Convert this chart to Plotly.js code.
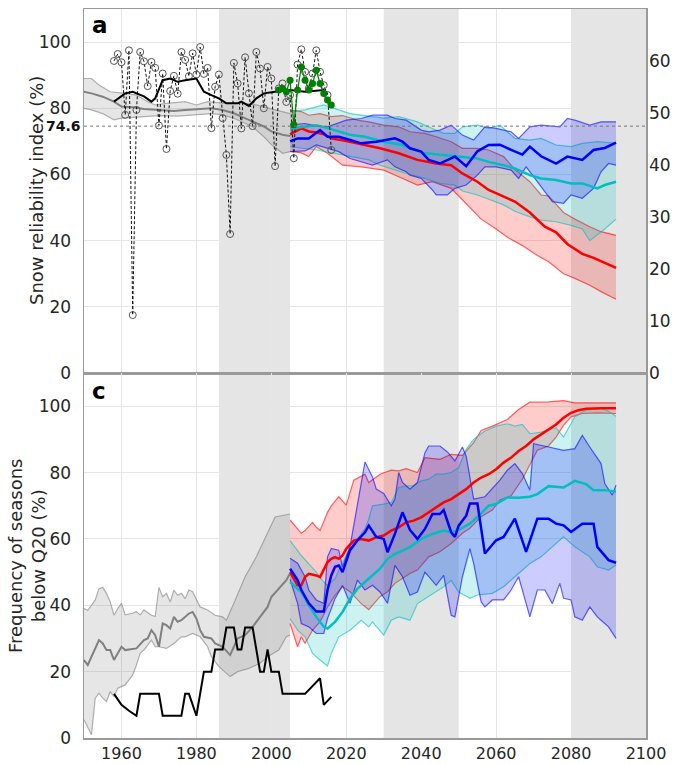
<!DOCTYPE html>
<html><head><meta charset="utf-8">
<script src="https://cdn.plot.ly/plotly-3.0.1.min.js"></script>
<style>html,body{margin:0;padding:0;background:#fff}#chart{width:673px;height:764px}</style>
</head><body><div id="chart"></div>
<script>
// ---------- Panel a : snow reliability index (%) ----------
const aGreyUpYears = [1950,1952,1954,1957,1961,1964,1967,1969,1972,1977,1980,1983,1988,1993,1996,1999,2001,2005];
const aGreyUpVals  = [89,89,87,85,84.5,84,82,81,81.5,82,81,82,81.5,81.5,81,80,79.5,78.4];
const aGreyMedYears = [1950,1952,1955,1958,1960,1963,1966,1970,1974,1977,1980,1984,1987,1990,1992,1995,1998,2000,2003,2005];
const aGreyMedVals  = [85,84.5,83.5,82,80.5,80.3,79.8,79.5,79.2,79.5,79.8,80,79.5,78.5,77.5,76,74.5,73,72,71.6];
const aGreyLoYears = [1950,1952,1955,1958,1960,1963,1966,1970,1975,1980,1984,1987,1990,1992,1995,1998,2000,2003,2005];
const aGreyLoVals  = [80,79.5,78.4,76.5,77,77.3,77.5,77.8,77.6,78,78.4,78,77,76,74.4,71.4,69,66.4,66.9];

const aObsYears = [1958,1959,1960,1961,1962,1963,1964,1965,1966,1967,1968,1969,1970,1971,1972,1973,1974,1975,1976,1977,1978,1979,1980,1981,1982,1983,1984,1985,1986,1987,1988,1989,1990,1991,1992,1993,1994,1995,1996,1997,1998,1999,2000,2001,2002,2003,2004,2005,2006,2007,2008,2009,2010,2011,2012,2013,2014,2015,2016];
const aObsVals  = [94.3,96.4,93.9,78,97.5,17.5,79.5,97,94.2,86.7,94,92.2,74.8,90.5,67.7,85.2,89.8,84.4,97,94.6,89.7,96.6,90.2,98.5,90.4,92.2,74,86.5,90.2,77,65.9,42,93.7,87.5,73.9,95.4,84.5,74.6,97,92,80,92.5,89,62.5,86,87.5,81.9,84,64.9,93.2,97.8,91,86,90.5,97.5,91,87,84,67.4];

const aMeanYears = [1958,1961,1963,1966,1968,1969,1971,1973,1975,1977,1980,1982,1984,1986,1988,1991,1992,1994,1996,1998,2001,2005,2009,2014,2015];
const aMeanVals  = [82,84.5,85,83.6,82,83,88.5,89,88,88.5,89,85,84,83,81.5,81.5,82,80.7,83,84.5,85,85.5,85,85.5,84.3];

const aGreenYears = [2002,2003,2004,2005,2006,2007,2008,2009,2010,2011,2012,2013,2014,2015,2016];
const aGreenVals  = [85.5,86,85,88.5,75,85.5,92.5,88.5,85.5,87.5,91.5,87.5,84.5,82.5,81];

const aRedMedYears = [2005,2008,2010,2012,2014,2016,2020,2025,2029,2034,2039,2044,2048,2051,2055,2058,2062,2065,2069,2071,2073,2076,2079,2083,2086,2089,2092];
const aRedMedVals  = [72.1,73.9,73,72.7,72.1,70.9,70.1,68.9,67.9,66.4,64.4,63.3,62.8,60.3,57.8,55.3,53.3,51.8,48.5,46.5,44.2,42.5,39,36,34.8,33.3,31.8];
const aRedUpYears = [2005,2008,2010,2013,2016,2019,2023,2026,2030,2034,2037,2041,2044,2048,2051,2055,2058,2062,2065,2069,2072,2074,2078,2081,2085,2088,2092];
const aRedUpVals  = [79.5,79,77.9,78.4,77.5,77.8,76.4,75.9,74.9,74.4,72.9,72.4,71.4,69.9,67.9,67.9,67.4,65.4,61.5,57.8,53.8,53.5,48.5,46.5,44.2,42.7,41.6];
const aRedLoYears = [2005,2008,2010,2012,2015,2019,2024,2030,2034,2039,2043,2048,2050,2053,2056,2060,2063,2067,2071,2074,2078,2081,2085,2088,2092];
const aRedLoVals  = [67,66.5,65.4,68.4,66.4,62.8,62.3,61.3,59.3,56.8,57.8,55.8,53.5,50,46.5,43.5,41,38.5,35.5,33.6,30,28.6,26.5,24.6,22.3];

const aCyanMedYears = [2005,2009,2012,2015,2018,2021,2025,2030,2035,2038,2041,2045,2049,2052,2055,2058,2062,2065,2069,2072,2076,2080,2083,2087,2089,2092];
const aCyanMedVals  = [73.9,74.5,74.9,74,72.9,72,71.4,69.9,68.9,67.5,66.4,65.9,65.4,65,64.8,63.8,62.8,61.8,59.8,58.8,58.3,57.3,57.3,55.8,56.8,57.8];
const aCyanUpYears = [2005,2009,2014,2018,2021,2027,2030,2034,2039,2043,2046,2049,2051,2055,2058,2061,2065,2069,2072,2076,2080,2083,2087,2092];
const aCyanUpVals  = [79,79.5,81,79.5,78.4,77.5,77,77.5,75.9,73.9,72.4,72.4,74.4,74.9,73.9,74.9,70.9,70.4,70.9,68.9,68.4,69.4,69.9,69.4];
const aCyanLoYears = [2005,2012,2019,2026,2029,2033,2036,2041,2045,2049,2051,2055,2058,2062,2065,2069,2072,2076,2080,2083,2085,2089,2092];
const aCyanLoVals  = [68.4,67.4,65.9,64.4,62.8,61.3,60.3,58.8,57.3,56.8,55,53.8,52.6,50.8,48.9,47.2,46.2,45.7,44.6,43.5,40,43.5,46.5];

const aBlueMedYears = [2005,2007,2010,2013,2015,2018,2021,2024,2028,2033,2035,2037,2040,2042,2045,2049,2052,2055,2058,2061,2064,2067,2069,2072,2076,2079,2083,2086,2089,2092];
const aBlueMedVals  = [70,70.9,70.9,73.4,71.4,71.4,70.4,69.4,69.9,70.9,69.9,67.9,66.9,64.4,63.3,65.4,62.5,67,68.9,69,67.4,66,68.4,65.5,63.3,65.4,64.4,67.4,68,69.6];
const aBlueUpYears = [2005,2009,2012,2015,2020,2024,2027,2031,2033,2036,2040,2042,2045,2048,2051,2054,2057,2060,2064,2066,2069,2072,2077,2079,2081,2085,2088,2092];
const aBlueUpVals  = [75,75.4,74.7,74.4,76.4,76.9,77.9,77.9,76.9,76.4,73.4,72.9,73.4,74.9,71.9,70.4,74.4,73.9,72.9,70.9,74.4,74.9,74.4,76.9,76.4,74.9,75.9,75.9];
const aBlueLoYears = [2005,2009,2012,2018,2021,2024,2027,2031,2033,2036,2037,2040,2043,2044,2047,2049,2052,2055,2057,2060,2064,2066,2068,2071,2073,2075,2078,2080,2083,2086,2088,2090,2092];
const aBlueLoVals  = [66.9,67.1,68.9,66.9,64.8,63.8,62.8,64.4,62.3,60.8,59.8,58.8,55.3,53.8,53.8,55.8,56.8,59.8,62.3,62.3,61.3,58.8,62.3,57.8,54.8,51.8,51.3,53.8,52.8,55.8,60.8,63.3,62.8];

// ---------- Panel c : frequency of seasons below Q20 (%) ----------
const cGreyUpYears = [1950,1951,1953,1954,1955,1956,1957,1958,1959,1960,1961,1963,1964,1965,1966,1968,1969,1970,1971,1972,1973,1974,1975,1976,1977,1978,1979,1980,1981,1983,1985,1987,1988,1990,1993,1996,1999,2001,2005];
const cGreyUpVals  = [39,38.5,41.6,45,45.4,43.6,41,37,39,40.6,37.1,37.6,38.1,37.1,38.6,37,36.6,45.4,42.6,43.6,41,44.6,43,43.6,42,44.6,44.1,41.6,39.5,38.6,37,36.5,35.5,40.6,48.6,54.6,61.6,66.6,67.5];
const cGreyMedYears = [1950,1951,1954,1955,1956,1957,1958,1960,1961,1964,1966,1967,1968,1969,1970,1971,1972,1973,1974,1975,1976,1978,1979,1980,1981,1982,1984,1985,1987,1989,1990,1991,1993,1995,1997,1999,2000,2002,2004,2005];
const cGreyMedVals  = [23.5,22,29.5,28.5,26.5,26.5,23.5,27.5,26.5,27,29.5,30,32.5,31,27.5,34.5,34,33,36.5,35,35.5,37.5,38,36,32.5,30.5,30,28.5,27.5,25,27.5,30,31,33.5,36.5,39.5,42.5,45,47.6,49.6];
const cGreyLoYears = [1950,1952,1953,1954,1955,1956,1957,1958,1959,1960,1961,1962,1963,1964,1965,1966,1967,1968,1969,1970,1972,1974,1976,1977,1979,1981,1983,1984,1986,1988,1989,1991,1994,1997,1999,2002,2004,2005];
const cGreyLoVals  = [5.5,1,12,13.5,12,11,14,12.5,15,15.5,16,17.5,19,22,25.5,26.5,28,29.5,27.5,27.5,27,28.5,30.5,30.5,31.5,30.5,27.5,24.5,21.5,19.5,18.5,20,21,22.5,24.5,26.5,30.5,31];

const cBlackYears = [1958,1960,1962,1964,1965,1970,1971,1976,1977,1978,1980,1982,1984,1985,1987,1988,1990,1991,1992,1993,1995,1997,1998,1999,2000,2002,2003,2009,2013,2014,2016];
const cBlackVals  = [13.3,10,8.2,6.7,13.3,13.3,6.7,6.7,13.3,13.3,6.7,20,20,26.7,26.7,33.3,33.3,26.7,26.7,33.3,33.3,20,20,26.7,20,20,13.3,13.3,18,10,12.4];

const cRedMedYears = [2005,2007,2008,2009,2010,2012,2013,2014,2015,2016,2017,2018,2019,2020,2022,2024,2026,2028,2030,2032,2034,2036,2038,2040,2042,2044,2046,2048,2050,2052,2054,2056,2058,2060,2062,2064,2066,2068,2070,2072,2074,2076,2078,2080,2082,2084,2088,2092];
const cRedMedVals  = [50,46,46,48.5,49.5,49,48.5,51,53,54,54.5,54,55,57,59.5,60,59.5,60.5,61,62.5,63.5,65,65.5,66.5,68,69.5,71,72,73.5,75,77,78.5,79.5,81,83,84.5,86.5,88,90,91.5,93,94.5,96.5,98,98.8,99.2,99.4,99.4];
const cRedUpYears = [2005,2008,2009,2011,2012,2013,2015,2016,2018,2020,2022,2025,2026,2029,2032,2034,2036,2039,2041,2045,2048,2051,2054,2056,2059,2063,2066,2069,2074,2078,2081,2092];
const cRedUpVals  = [65.7,61.7,62.5,65,63.5,62.5,68,70,72.7,70.2,77.7,79.5,77,79.5,80.7,80.5,81.2,80,84.5,84,85.5,85.2,89,92.7,94,96,99,101.2,101.3,101.7,101,101];
const cRedLoYears = [2005,2007,2008,2009,2011,2013,2015,2017,2019,2021,2024,2026,2029,2031,2033,2037,2039,2042,2045,2048,2051,2053,2056,2059,2061,2064,2067,2069,2071,2074,2076,2078,2080,2083,2087,2092];
const cRedLoVals  = [34.5,27.5,30.5,28.5,32.5,35,39.5,43,45.6,44.1,40.5,38.7,42.6,44.1,46.6,49.6,50.6,54.6,56.1,58.6,61.7,63.2,66.7,68.7,71.7,73,78,82.5,86.7,88,90.7,94.3,96.8,97.8,98,97.8];

const cCyanMedYears = [2005,2008,2010,2012,2014,2015,2017,2019,2021,2023,2025,2027,2029,2031,2033,2035,2037,2040,2043,2046,2048,2050,2053,2055,2058,2060,2063,2066,2069,2071,2074,2078,2081,2084,2086,2089,2092];
const cCyanMedVals  = [47,44,40,36.5,33.5,33,35,38,42,45,47,49,51,54,55.5,56.5,57.5,60,61.5,62.5,62,62.7,64.6,66.6,70,70.5,72.5,72.4,72.7,73.5,75.9,75.5,77.5,76.5,74.7,74.7,74.3];
const cCyanUpYears = [2005,2008,2010,2012,2014,2015,2017,2019,2021,2023,2025,2026,2027,2030,2032,2034,2036,2038,2040,2042,2044,2046,2048,2050,2052,2054,2057,2060,2063,2065,2067,2069,2072,2076,2078,2081,2084,2088,2090,2092];
const cCyanUpVals  = [59.5,55,52.5,50,47,46,48,53,57,60,63,66,70,70.5,71,75.5,76,76,77.5,78,79.5,79.5,80,81.5,87,90,92.5,94,94.7,94,94.5,91.7,92.2,93.5,90.7,96.8,98.8,99.3,98.5,97];
const cCyanLoYears = [2005,2007,2009,2011,2013,2015,2016,2018,2021,2024,2026,2027,2030,2032,2034,2037,2039,2041,2043,2046,2048,2050,2053,2055,2059,2062,2065,2069,2072,2075,2078,2081,2085,2087,2090,2092];
const cCyanLoVals  = [36,32.5,30.5,25.5,23.5,21.7,25.5,30.5,32.5,35.5,33.5,35,31,35.5,36.5,35.5,40.5,42,43.6,45.6,47.5,44,42.1,43.1,43.6,45.6,48.6,52.6,54.6,57.6,60.6,57.6,54.6,51.6,50.6,52.1];

const cBlueMedYears = [2005,2007,2008,2009,2010,2012,2014,2015,2016,2017,2018,2019,2021,2023,2025,2026,2028,2030,2031,2033,2035,2037,2039,2041,2043,2045,2046,2048,2049,2050,2052,2053,2055,2057,2060,2062,2065,2068,2071,2074,2076,2078,2080,2083,2086,2087,2090,2092];
const cBlueMedVals  = [51,47.6,44.6,42.6,40.6,38.1,38.1,44.6,49,51.6,52,50,56.6,59.6,62,64,60.6,60,56,61.6,68,62.7,60,63,67.5,67.5,68.7,62,60.6,64,67,70.7,70.7,55.6,59.6,60.6,66.1,56.1,66.1,66.1,64.6,64.1,62.1,64.6,64.6,57.6,53.6,52.8];
const cBlueUpYears = [2005,2007,2009,2010,2012,2014,2015,2016,2018,2019,2021,2023,2025,2027,2028,2030,2032,2033,2034,2035,2037,2039,2041,2042,2045,2047,2049,2051,2052,2054,2057,2061,2063,2065,2067,2069,2070,2074,2078,2081,2083,2085,2088,2089,2091,2092];
const cBlueUpVals  = [54.2,52.7,48.6,44.6,41.6,40.6,54.6,57.1,56.6,51.6,57.7,70,83.2,78.7,75,73.7,70,72,80,77,75,77,86,88,88,86.2,83.5,87.7,85,72,72.7,77.7,80.7,82.7,79.7,74.7,88.7,87.7,86.7,87.2,91.2,87.7,82.7,76.7,73.2,76.2];
const cBlueLoYears = [2005,2007,2008,2010,2012,2014,2015,2017,2019,2021,2023,2025,2027,2029,2031,2033,2035,2037,2039,2041,2044,2046,2048,2049,2051,2053,2054,2056,2057,2059,2062,2064,2066,2069,2071,2073,2075,2077,2078,2080,2081,2083,2085,2087,2088,2090,2092];
const cBlueLoVals  = [47.8,40.6,34.5,33.5,31.5,31.5,36,42,46,40.6,47.6,44.6,46,44,40.6,52,48.6,43,44,50,46,49,37,36.5,48.6,57.1,52.6,41,39.5,41.6,41.6,44.6,48.6,36.5,44.6,44.6,40.5,46.6,42.1,41.6,36.5,35.5,39.5,36.5,35.5,33.5,30];

// reference periods (grey shading) and tick labels
const periods = [[1986,2005],[2030,2050],[2080,2100]];
const xTicks = [1960,1980,2000,2020,2040,2060,2080,2100];
const yTicks = [0,20,40,60,80,100];
const yRightTicks = [0,10,20,30,40,50,60];
const refLevel = 74.6;

// ---------- styling helpers ----------
const RED = '255,0,0', CYAN = '0,191,191', BLUE = '0,0,255', GREY = '128,128,128';
function rgba(c, a) { return 'rgba(' + c + ',' + a + ')'; }
function band(xa, ya, loX, loY, upX, upY, c) {
  return [
    {x: loX, y: loY, xaxis: xa, yaxis: ya, mode: 'lines', line: {color: rgba(c, 0.6), width: 1.2}, hoverinfo: 'skip'},
    {x: upX, y: upY, xaxis: xa, yaxis: ya, mode: 'lines', line: {color: rgba(c, 0.6), width: 1.2},
     fill: 'tonexty', fillcolor: rgba(c, 0.2), hoverinfo: 'skip'}
  ];
}
function med(xa, ya, X, Y, color, w) {
  return {x: X, y: Y, xaxis: xa, yaxis: ya, mode: 'lines', line: {color: color, width: w}, hoverinfo: 'skip'};
}

const traces = [].concat(
  // panel a
  band('x', 'y', aGreyLoYears, aGreyLoVals, aGreyUpYears, aGreyUpVals, GREY),
  [med('x', 'y', aGreyMedYears, aGreyMedVals, 'rgb(128,128,128)', 2)],
  band('x', 'y', aRedLoYears, aRedLoVals, aRedUpYears, aRedUpVals, RED),
  band('x', 'y', aCyanLoYears, aCyanLoVals, aCyanUpYears, aCyanUpVals, CYAN),
  band('x', 'y', aBlueLoYears, aBlueLoVals, aBlueUpYears, aBlueUpVals, BLUE),
  [med('x', 'y', aRedMedYears, aRedMedVals, 'rgb(255,0,0)', 2.5),
   med('x', 'y', aCyanMedYears, aCyanMedVals, 'rgb(0,191,191)', 2.5),
   med('x', 'y', aBlueMedYears, aBlueMedVals, 'rgb(0,0,255)', 2.5)],
  [{x: aObsYears, y: aObsVals, xaxis: 'x', yaxis: 'y', mode: 'lines+markers',
    line: {color: '#111', width: 1, dash: '3px,2px'},
    marker: {symbol: 'circle-open', size: 7, color: '#555', line: {width: 1}}, hoverinfo: 'skip'},
   med('x', 'y', aMeanYears, aMeanVals, '#000', 2),
   {x: aGreenYears, y: aGreenVals, xaxis: 'x', yaxis: 'y', mode: 'lines+markers',
    line: {color: '#008000', width: 1.2}, marker: {color: '#008000', size: 7}, hoverinfo: 'skip'},
   {x: [2000], y: [null], xaxis: 'x', yaxis: 'y3', mode: 'lines', hoverinfo: 'skip'}],
  // panel c
  band('x2', 'y2', cGreyLoYears, cGreyLoVals, cGreyUpYears, cGreyUpVals, GREY),
  [med('x2', 'y2', cGreyMedYears, cGreyMedVals, 'rgb(128,128,128)', 2)],
  band('x2', 'y2', cRedLoYears, cRedLoVals, cRedUpYears, cRedUpVals, RED),
  band('x2', 'y2', cCyanLoYears, cCyanLoVals, cCyanUpYears, cCyanUpVals, CYAN),
  band('x2', 'y2', cBlueLoYears, cBlueLoVals, cBlueUpYears, cBlueUpVals, BLUE),
  [med('x2', 'y2', cRedMedYears, cRedMedVals, 'rgb(255,0,0)', 2.5),
   med('x2', 'y2', cCyanMedYears, cCyanMedVals, 'rgb(0,191,191)', 2.5),
   med('x2', 'y2', cBlueMedYears, cBlueMedVals, 'rgb(0,0,255)', 2.5),
   med('x2', 'y2', cBlackYears, cBlackVals, '#000', 2)]
);

const split = 365 / 729;
const gridC = '#e6e6e6', lineC = '#9a9a9a';
const xBase = {range: [1950, 2100], tickvals: xTicks, showgrid: true, gridcolor: gridC, showline: true,
  linecolor: lineC, linewidth: 1.5, mirror: true, zeroline: false, ticks: ''};
const yBase = {range: [0, 110], tickvals: yTicks, showgrid: true, gridcolor: gridC, showline: true,
  linecolor: lineC, linewidth: 1.5, mirror: true, zeroline: false, ticks: '', ticklabelstandoff: 8};

const shapes = periods.map(p => ({type: 'rect', xref: 'x', yref: 'paper', x0: p[0], x1: p[1], y0: 0, y1: 1,
  fillcolor: '#e5e5e5', line: {width: 0}, layer: 'below'}));
shapes.push({type: 'line', xref: 'x', yref: 'y', x0: 1950, x1: 2100, y0: refLevel, y1: refLevel,
  line: {color: '#777', width: 1, dash: 'dot'}, layer: 'above'});

const layout = {
  width: 673, height: 764, margin: {l: 84, r: 27, t: 9, b: 26}, showlegend: false,
  paper_bgcolor: '#fff', plot_bgcolor: 'rgba(0,0,0,0)',
  font: {family: 'DejaVu Sans', size: 17, color: '#262626'},
  xaxis: Object.assign({}, xBase, {domain: [0, 1], anchor: 'y', showticklabels: false}),
  yaxis: Object.assign({}, yBase, {domain: [split, 1], anchor: 'x'}),
  yaxis3: {overlaying: 'y', side: 'right', anchor: 'x', range: [0, 70], tickvals: yRightTicks,
    showgrid: false, zeroline: false, showline: false, ticks: '', ticklabelstandoff: 2},
  xaxis2: Object.assign({}, xBase, {domain: [0, 1], anchor: 'y2', ticklabelstandoff: 0, tickfont: {size: 16}}),
  yaxis2: Object.assign({}, yBase, {domain: [0, split], anchor: 'x2'}),
  shapes: shapes,
  annotations: [
    {xref: 'paper', yref: 'paper', x: 0.011, y: 0.978, xanchor: 'left', yanchor: 'middle', showarrow: false,
     text: '<b>a</b>', font: {size: 23, color: '#000'}},
    {xref: 'paper', yref: 'paper', x: 0.011, y: 0.476, xanchor: 'left', yanchor: 'middle', showarrow: false,
     text: '<b>c</b>', font: {size: 23, color: '#000'}},
    {xref: 'paper', yref: 'y', x: 0, y: refLevel, xanchor: 'right', yanchor: 'middle', xshift: -1, showarrow: false,
     text: '<b>' + refLevel + '</b>', font: {size: 14, color: '#111'}},
    {xref: 'paper', yref: 'paper', x: (36 - 84) / 562, y: (738 - 191) / 729, textangle: -90, showarrow: false,
     xanchor: 'center', yanchor: 'middle', text: 'Snow reliability index (%)', font: {size: 18}},
    {xref: 'paper', yref: 'paper', x: (27 - 84) / 562, y: (738 - 556) / 729, textangle: -90, showarrow: false,
     xanchor: 'center', yanchor: 'middle', text: 'Frequency of seasons<br>below Q20 (%)', font: {size: 18}}
  ]
};

Plotly.newPlot('chart', traces, layout, {displayModeBar: false, staticPlot: true});
</script></body></html>
